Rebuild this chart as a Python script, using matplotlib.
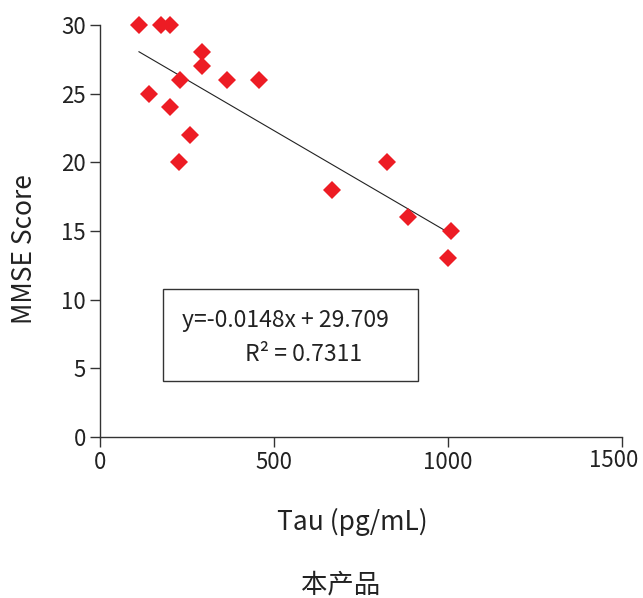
import matplotlib.pyplot as plt
import matplotlib.transforms as mtransforms
from matplotlib.patches import Rectangle
import numpy as np

plt.rcParams['font.family'] = ['Noto Sans CJK SC', 'DejaVu Sans']

# data
tau = [112, 174, 202, 293, 293, 231, 364, 457, 140, 200, 259, 228, 667, 824, 886, 1010, 999]
mmse = [30, 30, 30, 28, 27, 26, 26, 26, 25, 24, 22, 20, 18, 20, 16, 15, 13]

slope = -0.0148
intercept = 29.709
r2 = 0.7311
line_x = [112, 1002]

xticks = [0, 500, 1000, 1500]
yticks = [0, 5, 10, 15, 20, 25, 30]

fig = plt.figure(figsize=(6.43, 5.98), dpi=100)
ax = fig.add_axes([100 / 643, 1 - 437 / 598, 522 / 643, 412 / 598])

ax.plot(tau, mmse, linestyle='none', marker='D', ms=9.2, color='#ED1C24',
        markeredgewidth=0, clip_on=False, zorder=3)

lx = np.array(line_x)
ax.plot(lx, slope * lx + intercept, color='#222222', lw=0.8, zorder=2)

ax.set_xlim(0, 1500)
ax.set_ylim(0, 30)
ax.set_xticks(xticks)
ax.set_yticks(yticks)
ax.tick_params(direction='out', length=7, width=1, color='#333333',
               labelsize=16, labelcolor='#222222', pad=3)
for s in ['top', 'right']:
    ax.spines[s].set_visible(False)
for s in ['left', 'bottom']:
    ax.spines[s].set_color('#333333')
    ax.spines[s].set_linewidth(1)

# last x label sits a bit left so it fits in the figure
last = ax.get_xticklabels()[-1]
last.set_transform(last.get_transform() +
                   mtransforms.ScaledTranslation(-8 / 100, 2 / 100, fig.dpi_scale_trans))

# equation box
ax.add_patch(Rectangle((181, 4.08), 734, 6.7, fill=False, edgecolor='#333333',
                       lw=1, zorder=1))
ax.text(534, 8.0, f'y={slope}x + {intercept}', ha='center', va='baseline',
        fontsize=16.5, color='#222222')
ax.text(586, 5.55, f'R² = {r2}', ha='center', va='baseline',
        fontsize=16.5, color='#222222')

fig.text(24 / 643, 1 - 249 / 598, 'MMSE Score', rotation=90, ha='center',
         va='center', fontsize=19, color='#222222')
fig.text(352 / 643, 1 - 522 / 598, 'Tau (pg/mL)', ha='center', va='center',
         fontsize=19, color='#222222')
fig.text(341 / 643, 1 - 585 / 598, '本产品', ha='center', va='center',
         fontsize=19, color='#222222')

fig.savefig('out.png', dpi=100)
